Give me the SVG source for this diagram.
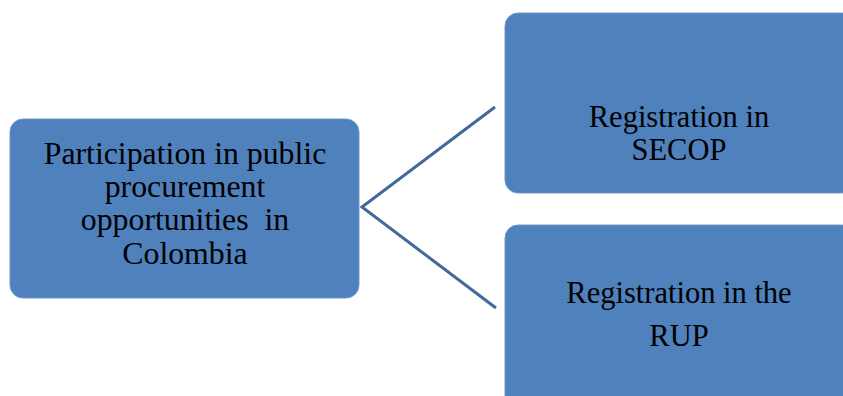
<svg xmlns="http://www.w3.org/2000/svg" width="843" height="396" viewBox="0 0 843 396">
<style>
.box{fill:#4F81BD;stroke:#6f97c9;stroke-width:1}
.t{font-family:"Liberation Serif","Times New Roman",serif;font-size:30.5px;fill:#000;text-anchor:middle;white-space:pre}
.big{font-size:31.8px}
.c{fill:none;stroke:#41699A;stroke-width:3;stroke-linecap:butt;stroke-linejoin:miter}
</style>
<rect width="843" height="396" fill="#fff"/>
<g id="connectors">
<polyline class="c" points="495,107 362,207 496,308"/>
</g>
<g id="n1">
<rect class="box" x="10" y="119" width="349" height="179" rx="13"/>
<text class="t big" x="185" y="164">Participation in public</text>
<text class="t big" x="185" y="197">procurement</text>
<text class="t big" x="185" y="230" xml:space="preserve">opportunities  in</text>
<text class="t big" x="185" y="264">Colombia</text>
</g>
<g id="n2">
<rect class="box" x="505" y="13" width="350" height="180" rx="13"/>
<text class="t" x="679" y="127">Registration in</text>
<text class="t" x="679" y="160">SECOP</text>
</g>
<g id="n3">
<rect class="box" x="505" y="225" width="350" height="190" rx="13"/>
<text class="t" x="679" y="303">Registration in the</text>
<text class="t" x="679" y="346">RUP</text>
</g>
</svg>
